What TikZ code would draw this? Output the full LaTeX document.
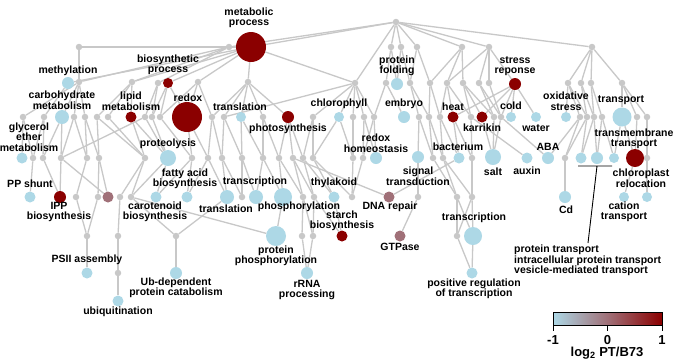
\documentclass[tikz,border=0pt]{standalone}
\usepackage{fontspec}
\setmainfont{Liberation Sans}
\usetikzlibrary{backgrounds}
\definecolor{ngray}{RGB}{200,200,200}
\definecolor{nblue}{RGB}{173,216,230}
\definecolor{nred}{RGB}{139,0,0}
\definecolor{nmauve}{RGB}{160,112,120}
\tikzset{
go/.style={circle, inner sep=0pt, minimum size=#1}, % every term is a filled dot
hub/.style={go=6.5, fill=ngray}, % term without change
lownode/.style={go=#1, fill=nblue}, % lower in PT
highnode/.style={go=#1, fill=nred}, % higher in PT
midnode/.style={go=#1, fill=nmauve},
link/.style={draw=ngray, line width=1.3pt},
lab/.style={font=\fontsize{10.5}{10.5}\selectfont\bfseries, align=center, inner sep=0pt},
}

\begin{document}
\begin{tikzpicture}[x=1pt, y=-1pt]
    \useasboundingbox (0,0) rectangle (677,360);
    % grey terms
    \foreach \n/\x/\y in {root/396/22,
      a1/79/47, a2/229/47, a3/391/47, a4/401/47, a5/417/47, a6/462/47, a7/489/47, a8/592/47,
      b1/79/82, b2/132/82, b3/158/83, b4/198/82, b5/248/82, b6/355/83, b7/386/83, b8/410/83,
      b9/430/83, b10/447/83, b11/463/83, b12/479/83, b13/489/83, b14/568/83, b15/581/83,
      b16/591/83, b17/622/83,
      c1/23/117, c2/44/117, c3/74/117, c4/85/117, c5/97/117, c6/108/117, c7/145/117,
      c8/152/117, c9/160/117, c10/212/117, c11/224/117, c12/263/117, c13/313/117, c14/353/117,
      c15/364/117, c16/374/117, c17/419/117, c18/429/117, c19/440/117, c20/471/117,
      c21/494/117, c22/501/117, c23/580/117, c24/587/117, c25/594/117, c26/602/117,
      c27/637/117, c28/647/117,
      d2/33/158, d3/43/158, d4/61/158, d5/87/158, d6/99/158, d7/145/158, d9/192/158,
      d10/208/158, d11/222/158, d12/242/158, d13/263/158, d14/279/158, d15/293/158,
      d16/303/158, d17/313/158, d18/353/158, d19/363/158, d20/433/158, d21/443/158,
      d22/472/158, d23/565/158, d24/647/158,
      e1/76/197, e2/98/197, e3/120/197, e4/131/197, e5/242/197, e6/303/197, e7/314/197,
      e8/352/197, e9/418/197, e10/457/197, e11/472/197,
      f1/87/236, f2/118/236, f3/176/236, f4/302/236, f5/313/236, f6/457/236, f7/118/273}
      \node[hub] (\n) at (\x,\y) {};

    % coloured terms
    \node[highnode=30] (metab) at (251,47) {};
    \node[lownode=12] (methyl) at (68,83) {};
    \node[highnode=10] (biosyn) at (168,83) {};
    \node[lownode=12] (pfold) at (397,84) {};
    \node[highnode=12] (stress) at (515,84) {};
    \node[lownode=14] (carb) at (62,117) {};
    \node[highnode=11] (lipid) at (131,117) {};
    \node[highnode=30] (redox) at (187,117) {};
    \node[lownode=10] (transl) at (241,117) {};
    \node[highnode=12] (photo) at (288,117) {};
    \node[lownode=10] (chloro) at (339,117) {};
    \node[lownode=12] (embryo) at (404,117) {};
    \node[highnode=11] (heat) at (453,117) {};
    \node[highnode=11] (karr) at (482,117) {};
    \node[lownode=10] (cold) at (511,117) {};
    \node[lownode=10] (water) at (536,117) {};
    \node[lownode=10] (oxid) at (566,117) {};
    \node[lownode=19] (transp) at (622,117) {};
    \node[lownode=11] (glyc) at (22,158) {};
    \node[lownode=16] (proteo) at (168,158) {};
    \node[lownode=12] (redhom) at (376,158) {};
    \node[lownode=12] (signal) at (418,157) {};
    \node[lownode=11] (bact) at (459,158) {};
    \node[lownode=16] (salt) at (493,157) {};
    \node[lownode=11] (auxin) at (527,158) {};
    \node[lownode=12] (aba) at (548,158) {};
    \node[lownode=11] (tp1) at (581,158) {};
    \node[lownode=12] (tp2) at (597,158) {};
    \node[lownode=10] (tp3) at (614,158) {};
    \node[highnode=18] (chlorop) at (635,158) {};
    \node[lownode=11] (ppsh) at (30,197) {};
    \node[highnode=12] (ipp) at (60,197) {};
    \node[midnode=11] (purp) at (108,197) {};
    \node[lownode=11] (carot) at (156,197) {};
    \node[lownode=11] (fatty) at (187,197) {};
    \node[lownode=14] (transl2) at (227,197) {};
    \node[lownode=14] (transc) at (256,197) {};
    \node[lownode=18] (phos) at (283,197) {};
    \node[lownode=11] (thyl) at (334,197) {};
    \node[midnode=11] (dnarep) at (389,197) {};
    \node[lownode=12] (cd) at (565,197) {};
    \node[lownode=10] (cation) at (624,197) {};
    \node[lownode=10] (chlreloc) at (647,197) {};
    \node[lownode=20] (pphos) at (276,236) {};
    \node[highnode=11] (starch) at (342,236) {};
    \node[midnode=11] (gtp) at (400,236) {};
    \node[lownode=18] (transc2) at (473,236) {};
    \node[lownode=11] (psii) at (87,273) {};
    \node[lownode=12] (ubdep) at (176,273) {};
    \node[lownode=12] (rrna) at (307,273) {};
    \node[lownode=11] (posreg) at (472,273) {};
    \node[lownode=11] (ubiq) at (118,301) {};

    % labels
    \node[lab] (lmetab) at (249,18) {metabolic\\process};
    \node[lab] (lmethyl) at (68,71) {methylation};
    \node[lab] (lbiosyn) at (168,65) {biosynthetic\\process};
    \node[lab] (lpfold) at (397,66) {protein\\folding};
    \node[lab] (lstress) at (515,66) {stress\\reponse};
    \node[lab] (lcarb) at (62,100) {carbohydrate\\metabolism};
    \node[lab] (llipid) at (131,101) {lipid\\metabolism};
    \node[lab] (lredox) at (188,98) {redox};
    \node[lab] (ltransl) at (240,107) {translation};
    \node[lab] (lphoto) at (288,129) {photosynthesis};
    \node[lab] (lchloro) at (339,104) {chlorophyll};
    \node[lab] (lembryo) at (404,104) {embryo};
    \node[lab] (lheat) at (453,107) {heat};
    \node[lab] (lkarr) at (482,128) {karrikin};
    \node[lab] (lcold) at (511,106) {cold};
    \node[lab] (lwater) at (536,128) {water};
    \node[lab] (loxid) at (566,101) {oxidative\\stress};
    \node[lab] (ltransp) at (621,100) {transport};
    \node[lab] (ltmt) at (634,139) {transmembrane\\transport};
    \node[lab] (lglyc) at (29,137) {glycerol\\ether\\metabolism};
    \node[lab] (lproteo) at (168,144) {proteolysis};
    \node[lab] (lredhom) at (376,143) {redox\\homeostasis};
    \node[lab] (lsignal) at (418,176) {signal\\transduction};
    \node[lab] (lbact) at (458,147) {bacterium};
    \node[lab] (lsalt) at (493,172) {salt};
    \node[lab] (lauxin) at (527,171) {auxin};
    \node[lab] (laba) at (548,147) {ABA};
    \node[lab] (lchlreloc) at (641,178) {chloroplast\\relocation};
    \node[lab] (lppsh) at (30,184) {PP shunt};
    \node[lab] (lipp) at (59,212) {IPP\\biosynthesis};
    \node[lab] (lfatty) at (185,179) {fatty acid\\biosynthesis};
    \node[lab] (lcarot) at (155,212) {carotenoid\\biosynthesis};
    \node[lab] (ltransc) at (255,182) {transcription};
    \node[lab] (ltransl2) at (226,209) {translation};
    \node[lab] (lphos) at (299,207) {phosphorylation};
    \node[lab] (lthyl) at (334,183) {thylakoid};
    \node[lab] (lstarch) at (342,221) {starch\\biosynthesis};
    \node[lab] (ldnarep) at (390,207) {DNA repair};
    \node[lab] (lgtp) at (400,247) {GTPase};
    \node[lab] (lpphos) at (276,256) {protein\\phosphorylation};
    \node[lab] (lrrna) at (307,290) {rRNA\\processing};
    \node[lab] (lpsii) at (87,260) {PSII assembly};
    \node[lab] (lubdep) at (176,288) {Ub-dependent\\protein catabolism};
    \node[lab] (lubiq) at (118,312) {ubiquitination};
    \node[lab] (ltransc2) at (474,218) {transcription};
    \node[lab] (lposreg) at (474,289) {positive regulation\\of transcription};
    \node[lab] (lcd) at (566,210) {Cd};
    \node[lab] (lcation) at (624,212) {cation\\transport};
    \node[lab, align=left, anchor=north west] (tpnote) at (514,245)
      {protein transport\\intracellular protein transport\\vesicle-mediated transport};

    % bracket to the transport terms
    \coordinate (brl) at (578,166);
    \coordinate (brr) at (612,166);
    \coordinate (brm) at (597,166);
    \coordinate (bre) at (588,243);
    \draw[line width=0.9pt] (brl) -- (brr) (brm) -- (bre);

    % colour key
    \shade[left color=nblue, right color=nred, middle color=nmauve] (553,312) rectangle (662,325);
    \draw[line width=0.8pt] (553,312) rectangle (662,325);
    \foreach \x in {553,607.5,662} \draw[line width=0.8pt] (\x,325) -- (\x,331);
    \node[lab, font=\fontsize{13}{13}\selectfont\bfseries] (kneg) at (553,340) {-1};
    \node[lab, font=\fontsize{13}{13}\selectfont\bfseries] (kzero) at (607.5,340) {0};
    \node[lab, font=\fontsize{13}{13}\selectfont\bfseries] (kpos) at (662,340) {1};
    \node[lab, font=\fontsize{13}{13}\selectfont\bfseries] (ktitle) at (607,353) {log\textsubscript{2} PT/B73};

    \begin{scope}[on background layer]
    \fill[white] (0,0) rectangle (677,360);
    \foreach \a/\b in {root/a2, root/metab, root/b6, root/a3, root/a4, root/a5, root/a6,
      root/a7, root/a8, a1/metab,
      a1/b1, a2/b1, a2/b2, a2/b3, metab/methyl, metab/b2, metab/biosyn, metab/b4, metab/b5,
      metab/b6, a3/b7, a3/pfold, a4/pfold, a4/b8, a5/b8, a5/b9, a6/b9, a6/b10, a6/b11,
      a7/b10, a7/b12, a7/b13, a7/stress, a8/b14, a8/b15, a8/b16, a8/b17,
      b1/c1, b1/carb, b1/c3, b1/c4, methyl/c2, b2/c5, b2/c6, b2/lipid, b3/c7, b3/c8,
      biosyn/c8, biosyn/redox, biosyn/c9, b4/c9, b4/redox, b4/c10, b5/c10, b5/c11,
      b5/transl, b5/c12, b5/photo, b6/c11, b6/c13, b6/chloro, b6/c14, b6/c15, b6/c16,
      b7/c16, b7/embryo, b8/c17, b8/c18, b9/c18, b9/c19, b10/c19, b10/heat, b10/c20,
      b11/c20, b11/karr, b11/c21, b12/c21, b12/c22, b13/c22, stress/heat, stress/karr,
      stress/c22, stress/cold, stress/water, b14/oxid, b14/c23, b14/c24, b15/c24, b15/c25,
      b16/c25, b16/c26, b17/transp, b17/c27, b17/c28,
      c1/glyc, c1/d2, c2/d2, c2/d3, carb/d3, carb/d4, c3/d4, c3/d5, c4/d5, c4/d6, c5/d6,
      c5/d7, c6/d7, lipid/d7, lipid/proteo, c7/proteo, c8/proteo, c9/d9, redox/d9,
      redox/d10, c10/d10, c10/d11, c11/d11, c11/d12, transl/d12, transl/d13, c12/d13,
      c12/d14, photo/d14, photo/d15, photo/d16, c13/d16, c13/d17, chloro/d17, chloro/d18,
      c14/d18, c15/d19, c15/redhom, c16/d19, c16/redhom, c17/signal, c17/d20, c18/d20,
      c18/d21, c19/d21, c19/bact, heat/bact, heat/d22, c20/d22, c20/auxin, karr/salt,
      c21/salt, c22/salt, c22/aba, c23/d23, c23/aba, c24/d23, c24/tp1, c25/tp1, c25/tp2,
      c26/tp2, c26/tp3, transp/tp3, transp/chlorop, c27/chlorop, c28/d24, d4/c7,
      d2/ppsh, d3/ipp, d4/ipp, d4/purp, d5/e1, d6/e2, d6/purp, d7/e3, d7/e4, proteo/carot,
      proteo/e4, d9/carot, d9/fatty, d10/fatty, d10/transl2, d11/transl2, d11/e5, d12/e5,
      d12/transc, d13/transc, d13/phos, d14/phos, d14/e6, d15/e6, d15/e7, d15/dnarep,
      d16/e7, d16/thyl, d17/thyl, d17/e8, d18/e8, d19/e8, signal/e9, d20/e10, d21/e10,
      d21/e11, bact/dnarep, d22/e11, d23/cd, chlorop/cation, d24/chlreloc,
      e1/f1, e2/f1, e3/f2, e4/f3, transl2/f3, e4/pphos, phos/pphos, e6/f4, e7/f5, e6/f5,
      thyl/starch, e7/starch, e9/gtp, e10/f6, e10/transc2, e11/f6, e11/transc2,
      f1/psii, f2/f7, f7/ubiq, f3/ubdep, f4/rrna, f5/rrna, f6/posreg, transc2/posreg}
      \draw[link] (\a) -- (\b);
    \end{scope}
\end{tikzpicture}
\end{document}
